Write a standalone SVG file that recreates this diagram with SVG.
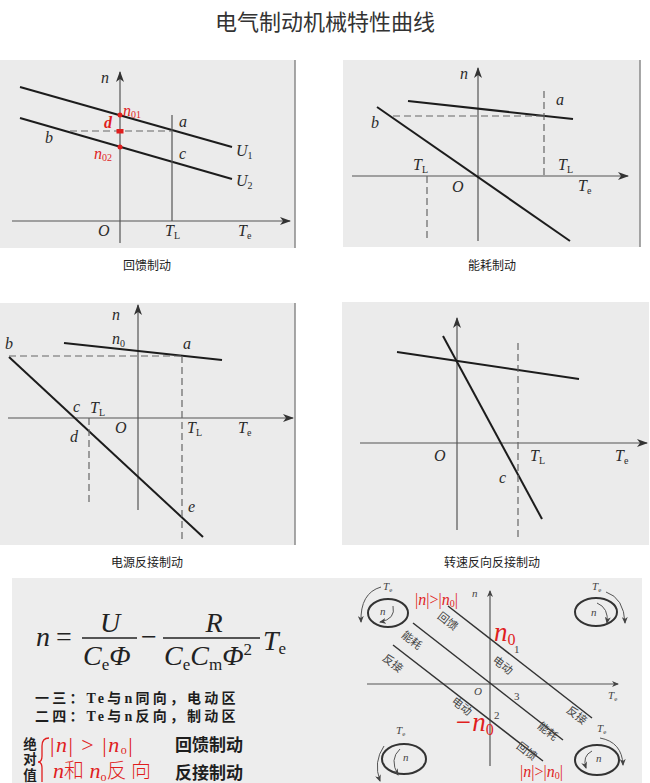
<svg xmlns="http://www.w3.org/2000/svg" width="650" height="783" viewBox="0 0 650 783">
<defs>
<marker id="ah" markerUnits="userSpaceOnUse" markerWidth="12" markerHeight="8" refX="10" refY="4" orient="auto">
<path d="M0,0 L11,4 L0,8 L3,4 Z" fill="#333"/>
</marker>
<marker id="ahs" markerUnits="userSpaceOnUse" markerWidth="8" markerHeight="6" refX="6" refY="3" orient="auto">
<path d="M0,0 L7,3 L0,6 L2,3 Z" fill="#444"/>
</marker>
<style>
.bg{fill:#ebebeb}
.edge{stroke:#8a8a8a;stroke-width:1.5}
.ax{stroke:#555;stroke-width:1.2;fill:none}
.cv{stroke:#1c1c1c;stroke-width:2;fill:none}
.ds{stroke:#666;stroke-width:1.2;stroke-dasharray:7 4;fill:none}
.lbl{font-family:"Liberation Serif",serif;font-style:italic;font-size:16px;fill:#2a2a2a}
.sub{font-style:normal;font-size:10px}
.cap{font-family:"Noto Sans CJK SC","Noto Sans",sans-serif;font-size:12px;fill:#222;text-anchor:middle}
.red{fill:#e01e1e}
.m{font-family:"Liberation Serif",serif;font-size:28px;fill:#222}
.it{font-style:italic}
.bold{font-family:"Noto Sans CJK SC",sans-serif;font-weight:700;fill:#1e1e1e}
.zone{font-size:14px;letter-spacing:3.2px}
.sm{font-family:"Liberation Serif",serif;font-size:11px;fill:#444}
.rot{font-family:"Noto Sans CJK SC",sans-serif;font-size:11px;fill:#444;text-anchor:middle}
.ln{stroke:#333;stroke-width:1.5;fill:none}
.ring{stroke:#333;stroke-width:2;fill:none}
.arc{stroke:#555;stroke-width:1;fill:none}
</style>
</defs>
<rect width="650" height="783" fill="#ffffff"/>
<text x="325" y="30" text-anchor="middle" font-family="Noto Sans CJK SC, sans-serif" font-size="22" fill="#333">电气制动机械特性曲线</text>

<g id="panel-feedback">
<rect class="bg" x="0" y="60" width="295" height="188"/>
<line class="edge" x1="295" y1="60" x2="295" y2="248"/>
<line class="ax" x1="120" y1="243" x2="120" y2="72" marker-end="url(#ah)"/>
<line class="ax" x1="12" y1="221" x2="290" y2="221" marker-end="url(#ah)"/>
<line class="cv" x1="20" y1="87" x2="232" y2="147"/>
<line class="cv" x1="20" y1="118" x2="232" y2="179"/>
<line x1="172" y1="115" x2="172" y2="221" stroke="#555" stroke-width="1.2"/>
<line class="ds" x1="70" y1="131" x2="172" y2="131"/>
<circle cx="120" cy="115" r="2.5" fill="#e01e1e"/>
<rect x="116.5" y="129" width="7" height="4.5" fill="#e01e1e"/>
<circle cx="120" cy="147" r="2.5" fill="#e01e1e"/>
<text class="lbl" x="101" y="83">n</text>
<text class="lbl red" x="123" y="116" font-size="15">n<tspan class="sub" dy="2">01</tspan></text>
<text class="lbl red" x="104" y="128" font-size="15" font-weight="700">d</text>
<text class="lbl red" x="94" y="159" font-size="14">n<tspan class="sub" dy="2">02</tspan></text>
<text class="lbl" x="179" y="127">a</text>
<text class="lbl" x="45" y="143">b</text>
<text class="lbl" x="179" y="159">c</text>
<text class="lbl" x="236" y="156">U<tspan class="sub" dy="3">1</tspan></text>
<text class="lbl" x="236" y="186">U<tspan class="sub" dy="3">2</tspan></text>
<text class="lbl" x="98" y="236">O</text>
<text class="lbl" x="165" y="236">T<tspan class="sub" dy="3">L</tspan></text>
<text class="lbl" x="238" y="236">T<tspan class="sub" dy="3">e</tspan></text>
<text class="cap" x="147" y="270">回馈制动</text>
</g>

<g id="panel-dynamic">
<rect class="bg" x="343" y="60" width="297" height="187"/>
<line class="edge" x1="640" y1="60" x2="640" y2="247"/>
<line class="ax" x1="478" y1="241" x2="478" y2="68" marker-end="url(#ah)"/>
<line class="ax" x1="352" y1="176" x2="628" y2="176" marker-end="url(#ah)"/>
<line class="cv" x1="408" y1="101" x2="573" y2="119"/>
<line class="cv" x1="377" y1="107" x2="570" y2="241"/>
<line class="ds" x1="393" y1="116" x2="544" y2="116"/>
<line class="ds" x1="544" y1="91" x2="544" y2="176"/>
<line class="ds" x1="427" y1="176" x2="427" y2="241"/>
<text class="lbl" x="460" y="79">n</text>
<text class="lbl" x="556" y="105">a</text>
<text class="lbl" x="371" y="128">b</text>
<text class="lbl" x="413" y="170">T<tspan class="sub" dy="3">L</tspan></text>
<text class="lbl" x="558" y="170">T<tspan class="sub" dy="3">L</tspan></text>
<text class="lbl" x="452" y="192">O</text>
<text class="lbl" x="578" y="191">T<tspan class="sub" dy="3">e</tspan></text>
<text class="cap" x="492" y="270">能耗制动</text>
</g>

<g id="panel-reverse-source">
<rect class="bg" x="0" y="303" width="295" height="242"/>
<line class="edge" x1="295" y1="303" x2="295" y2="545"/>
<line class="ax" x1="138" y1="510" x2="138" y2="305" marker-end="url(#ah)"/>
<line class="ax" x1="8" y1="418" x2="293" y2="418" marker-end="url(#ah)"/>
<line class="cv" x1="64" y1="343" x2="222" y2="360"/>
<line class="cv" x1="9" y1="357" x2="203" y2="537"/>
<line class="ds" x1="9" y1="356" x2="182" y2="356"/>
<line class="ds" x1="182" y1="356" x2="182" y2="540"/>
<line class="ds" x1="89" y1="418" x2="89" y2="505"/>
<text class="lbl" x="112" y="320">n</text>
<text class="lbl" x="112" y="344">n<tspan class="sub" dy="3">0</tspan></text>
<text class="lbl" x="5" y="349">b</text>
<text class="lbl" x="183" y="349">a</text>
<text class="lbl" x="73" y="412">c</text>
<text class="lbl" x="90" y="413">T<tspan class="sub" dy="3">L</tspan></text>
<text class="lbl" x="70" y="442">d</text>
<text class="lbl" x="115" y="433">O</text>
<text class="lbl" x="187" y="433">T<tspan class="sub" dy="3">L</tspan></text>
<text class="lbl" x="238" y="433">T<tspan class="sub" dy="3">e</tspan></text>
<text class="lbl" x="188" y="512">e</text>
<text class="cap" x="147" y="567">电源反接制动</text>
</g>

<g id="panel-reverse-speed">
<rect class="bg" x="342" y="302" width="307" height="243"/>
<line class="ax" x1="457" y1="530" x2="457" y2="318" marker-end="url(#ah)"/>
<line class="ax" x1="360" y1="443" x2="647" y2="443" marker-end="url(#ah)"/>
<line class="cv" x1="397" y1="352" x2="579" y2="379"/>
<line class="cv" x1="443" y1="336" x2="542" y2="519"/>
<line class="ds" x1="518" y1="343" x2="518" y2="537"/>
<text class="lbl" x="434" y="461">O</text>
<text class="lbl" x="530" y="461">T<tspan class="sub" dy="3">L</tspan></text>
<text class="lbl" x="615" y="461">T<tspan class="sub" dy="3">e</tspan></text>
<text class="lbl" x="499" y="483">c</text>
<text class="cap" x="492" y="567">转速反向反接制动</text>
</g>

<g id="panel-summary">
<rect x="12" y="578" width="630" height="205" fill="#ededed"/>
<g id="formula">
<text class="m it" x="36" y="646">n</text>
<text class="m" x="56" y="646">=</text>
<line x1="82" y1="638" x2="137" y2="638" stroke="#222" stroke-width="1.5"/>
<text class="m it" x="110" y="632" text-anchor="middle">U</text>
<text class="m it" x="83" y="665">C<tspan font-size="17" font-style="normal" dy="5">e</tspan><tspan dy="-5">Φ</tspan></text>
<text class="m" x="141" y="646">−</text>
<line x1="163" y1="638" x2="260" y2="638" stroke="#222" stroke-width="1.5"/>
<text class="m it" x="214" y="632" text-anchor="middle">R</text>
<text class="m it" x="164" y="665">C<tspan font-size="17" font-style="normal" dy="5">e</tspan><tspan dy="-5">C</tspan><tspan font-size="17" font-style="normal" dy="5">m</tspan><tspan dy="-5">Φ</tspan><tspan font-size="17" font-style="normal" dy="-10">2</tspan></text>
<text class="m it" x="263" y="650">T<tspan font-size="17" font-style="normal" dy="4">e</tspan></text>
</g>
<text class="bold zone"><tspan x="35" y="703">一三：<tspan font-family="Liberation Serif, serif">Te</tspan>与<tspan font-family="Liberation Serif, serif">n</tspan>同向，电动区</tspan><tspan x="35" y="721">二四：<tspan font-family="Liberation Serif, serif">Te</tspan>与<tspan font-family="Liberation Serif, serif">n</tspan>反向，制动区</tspan></text>
<g id="abs-note">
<text class="bold red" x="30" y="737" font-size="13.5" style="writing-mode:vertical-rl;letter-spacing:2px">绝对值</text>
<path d="M49,738 Q42,738 42,746 L42,756 Q42,762 38,762 Q42,762 42,768 L42,782" stroke="#e01e1e" stroke-width="1.3" fill="none"/>
<text x="50" y="752" font-family="Liberation Serif, serif" font-size="22" fill="#e01e1e" style="letter-spacing:1.5px">|<tspan font-style="italic">n</tspan>| &gt; |<tspan font-style="italic">n</tspan><tspan font-size="12" dy="2">o</tspan><tspan dy="-2">|</tspan></text>
<text x="53" y="778" font-family="Liberation Serif, serif" font-size="22" fill="#e01e1e"><tspan font-style="italic">n</tspan><tspan font-family="Noto Sans CJK SC, sans-serif" font-size="20" font-weight="300">和</tspan><tspan font-style="italic"> n</tspan><tspan font-size="12" dy="3">o</tspan><tspan dy="-3" font-family="Noto Sans CJK SC, sans-serif" font-size="20" font-weight="300">反 向</tspan></text>
</g>
<text class="bold" x="175" y="751" font-size="17">回馈制动</text>
<text class="bold" x="175" y="779" font-size="17">反接制动</text>

<g id="quadrant-chart">
<line class="ax" x1="490" y1="766" x2="490" y2="591" marker-end="url(#ahs)"/>
<line class="ax" x1="367" y1="684" x2="618" y2="684" marker-end="url(#ahs)"/>
<line class="ln" x1="448" y1="606" x2="592" y2="718"/>
<line class="ln" x1="413" y1="623" x2="563" y2="740"/>
<line class="ln" x1="393" y1="645" x2="543" y2="761"/>
<text class="rot" transform="rotate(38 448 621)" x="448" y="625">回馈</text>
<text class="rot" transform="rotate(38 412 640)" x="412" y="644">能耗</text>
<text class="rot" transform="rotate(38 393 663)" x="393" y="667">反接</text>
<text class="rot" transform="rotate(38 503 665)" x="503" y="669">电动</text>
<text class="rot" transform="rotate(38 577 715)" x="577" y="719">反接</text>
<text class="rot" transform="rotate(38 548 731)" x="548" y="735">能耗</text>
<text class="rot" transform="rotate(38 527 751)" x="527" y="755">回馈</text>
<text class="rot" transform="rotate(38 462 706)" x="462" y="710">电动</text>
<text class="sm" x="514" y="653">1</text>
<text class="sm" x="514" y="700">3</text>
<text class="sm" x="494" y="719">2</text>
<text class="sm it" x="474" y="695">O</text>
<text class="sm it" x="472" y="597">n</text>
<text class="sm it" x="608" y="699">T<tspan font-size="7" font-style="normal" dy="2">e</tspan></text>
<text x="494" y="641" font-family="Liberation Serif, serif" font-style="italic" font-size="27" fill="#e01e1e">n<tspan font-style="normal" font-size="16" dy="4">0</tspan></text>
<text x="454" y="731" font-family="Liberation Serif, serif" font-style="italic" font-size="27" fill="#e01e1e">−n<tspan font-style="normal" font-size="16" dy="4">0</tspan></text>
<text x="415" y="605" font-family="Liberation Serif, serif" font-size="16" fill="#e01e1e">|<tspan font-style="italic">n</tspan>|&gt;|<tspan font-style="italic">n</tspan><tspan font-size="10" dy="2">0</tspan><tspan dy="-2">|</tspan></text>
<text x="520" y="777" font-family="Liberation Serif, serif" font-size="16" fill="#e01e1e">|<tspan font-style="italic">n</tspan>|&gt;|<tspan font-style="italic">n</tspan><tspan font-size="10" dy="2">0</tspan><tspan dy="-2">|</tspan></text>
</g>

<g id="rot-tl">
<ellipse class="ring" cx="388" cy="613" rx="20" ry="14"/>
<path class="arc" d="M381,587 Q360,593 361,622" marker-end="url(#ahs)"/>
<path class="arc" d="M393,606 Q396,619 380,622" marker-end="url(#ahs)"/>
<text class="sm it" x="383" y="590" font-size="10">T<tspan font-size="7" font-style="normal" dy="2">e</tspan></text>
<text class="sm it" x="380" y="615" font-size="9">n</text>
</g>
<g id="rot-tr">
<ellipse class="ring" cx="596" cy="612" rx="21" ry="14"/>
<path class="arc" d="M606,592 Q624,598 625,623" marker-end="url(#ahs)"/>
<path class="arc" d="M597,603 Q609,608 607,623" marker-end="url(#ahs)"/>
<text class="sm it" x="592" y="590" font-size="10">T<tspan font-size="7" font-style="normal" dy="2">e</tspan></text>
<text class="sm it" x="591" y="616" font-size="9">n</text>
</g>
<g id="rot-bl">
<ellipse class="ring" cx="404" cy="759" rx="22" ry="15"/>
<path class="arc" d="M384,746 Q373,762 380,781" marker-end="url(#ahs)"/>
<path class="arc" d="M400,749 Q389,759 398,775" marker-end="url(#ahs)"/>
<text class="sm it" x="396" y="734" font-size="10">T<tspan font-size="7" font-style="normal" dy="2">e</tspan></text>
<text class="sm it" x="403" y="761" font-size="9">n</text>
</g>
<g id="rot-br">
<ellipse class="ring" cx="597" cy="760" rx="22" ry="15"/>
<path class="arc" d="M600,738 Q622,742 623,765" marker-end="url(#ahs)"/>
<path class="arc" d="M592,751 Q582,756 586,768" marker-end="url(#ahs)"/>
<text class="sm it" x="597" y="732" font-size="10">T<tspan font-size="7" font-style="normal" dy="2">e</tspan></text>
<text class="sm it" x="596" y="762" font-size="9">n</text>
</g>
</g>
</svg>
